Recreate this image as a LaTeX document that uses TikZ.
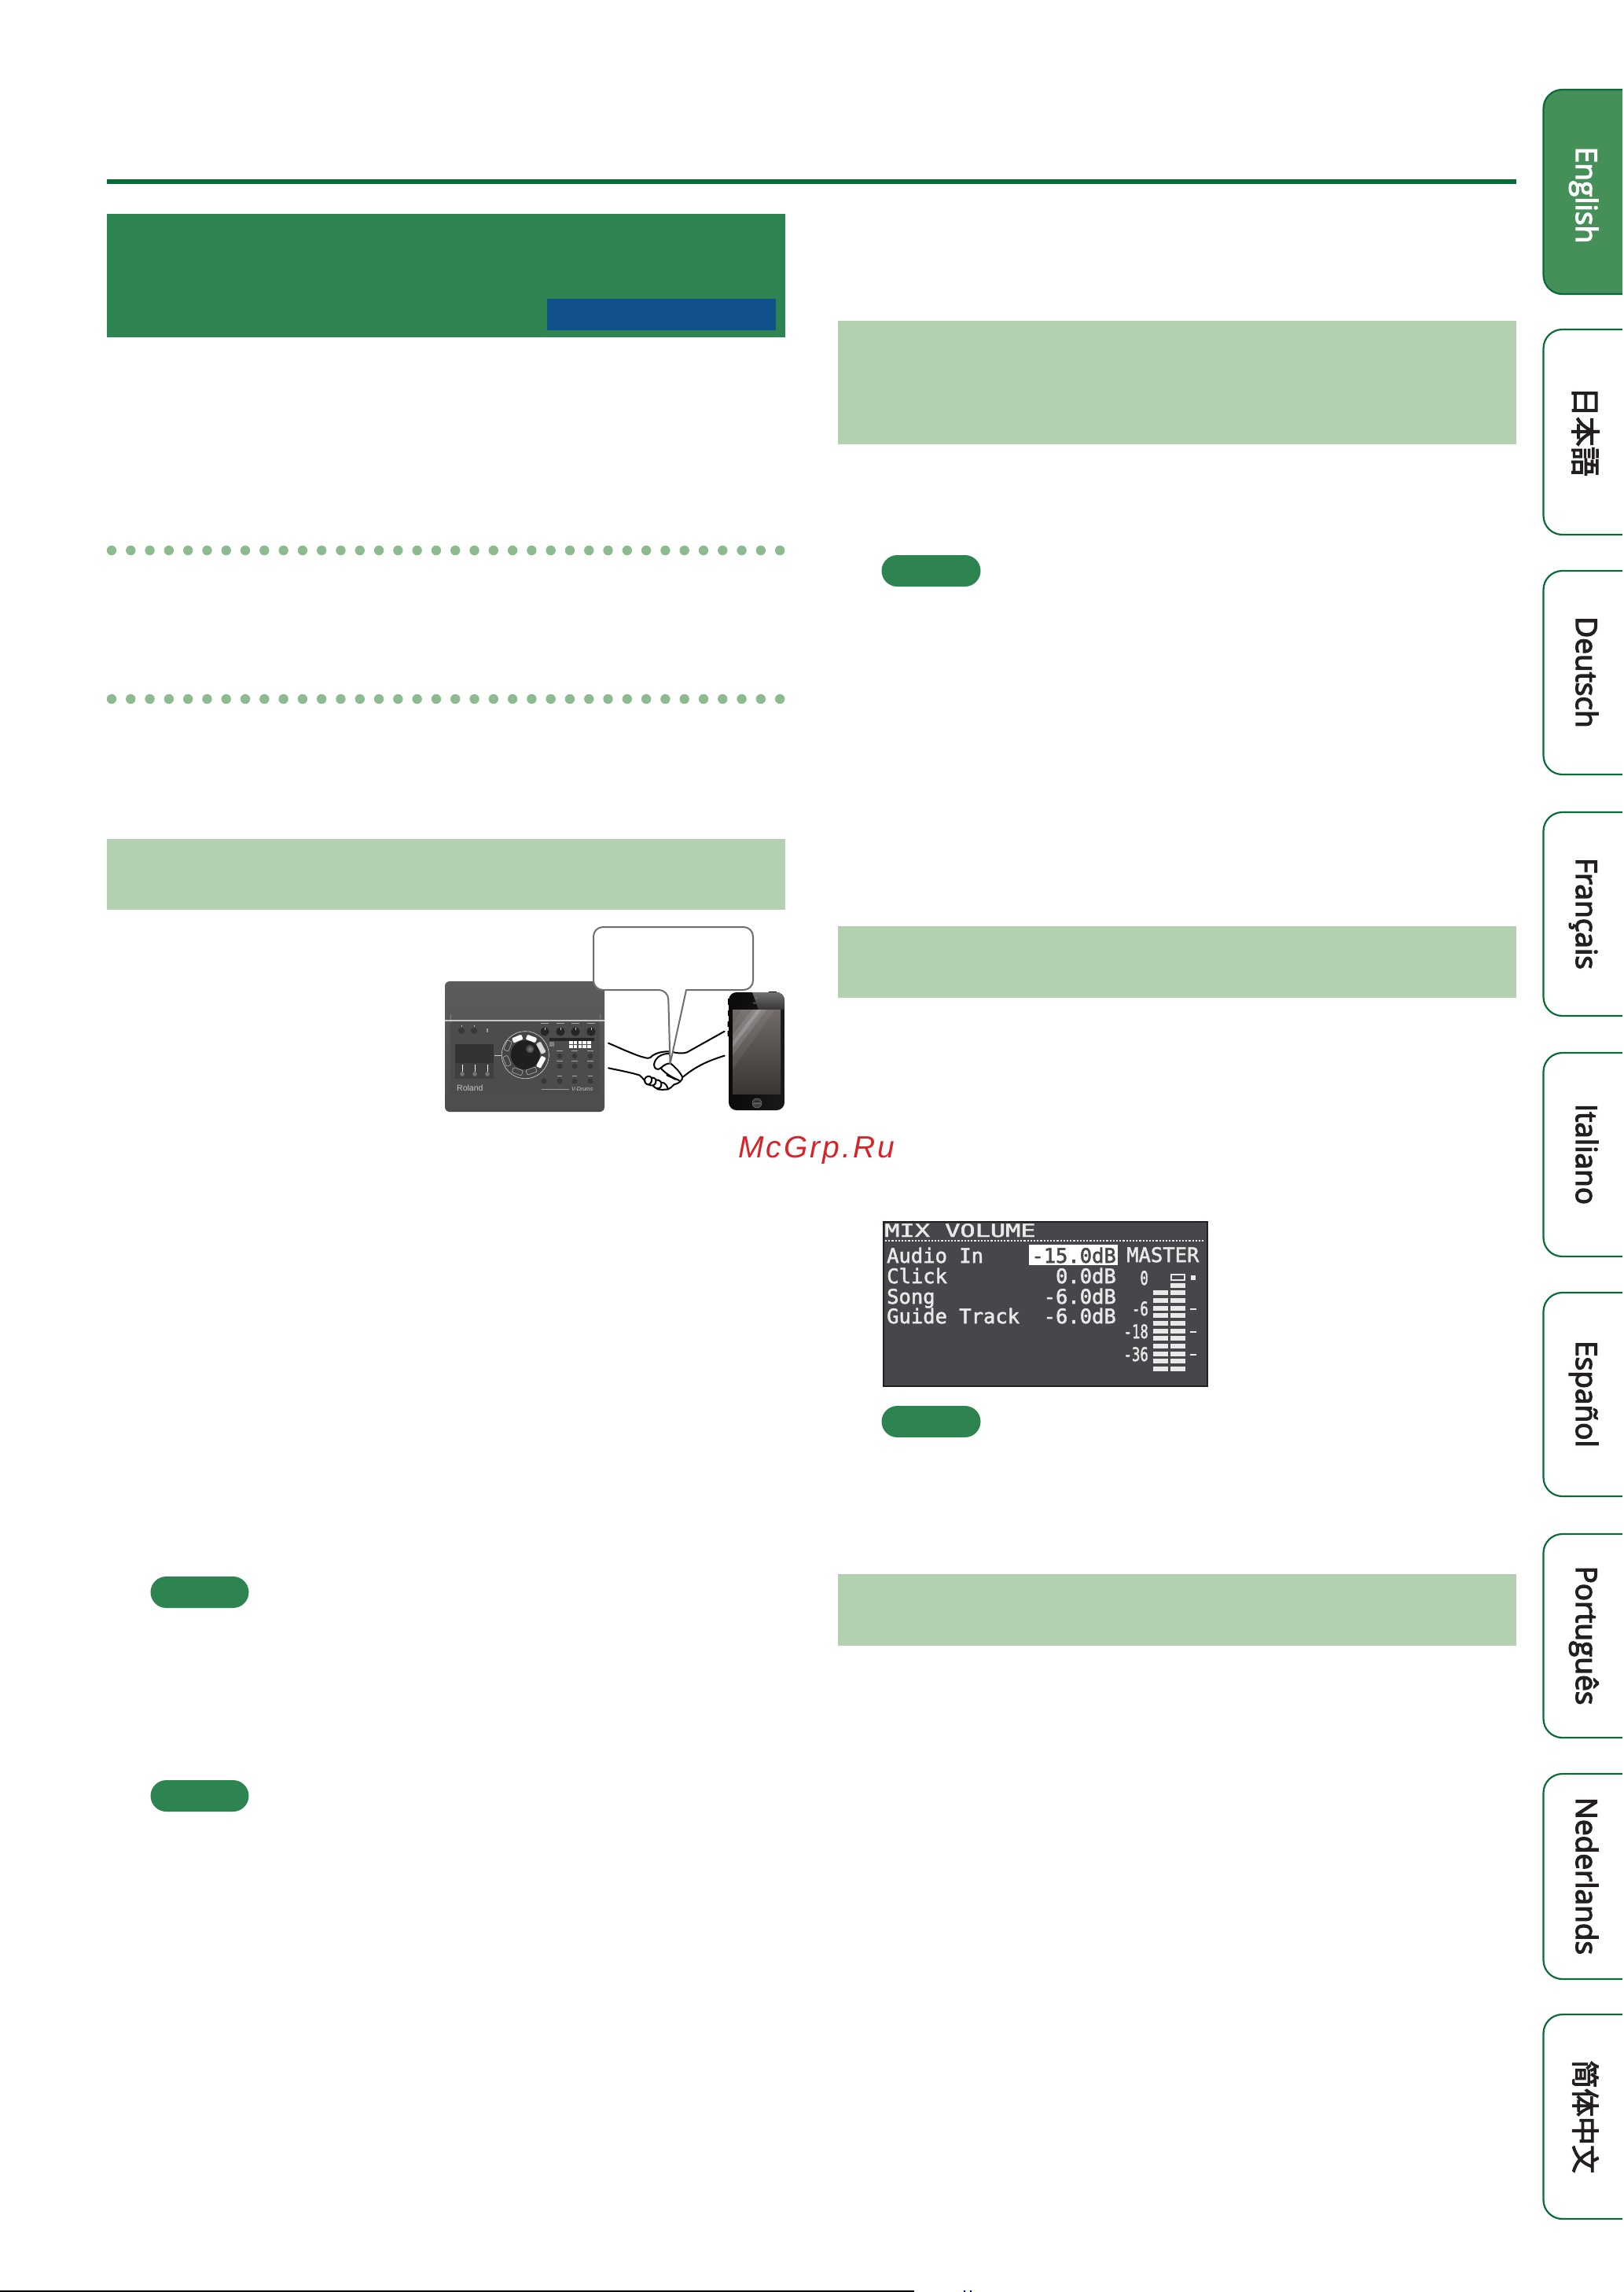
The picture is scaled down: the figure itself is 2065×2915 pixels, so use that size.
\documentclass[tikz,border=0pt]{standalone}
\usepackage{fontspec}
\setmainfont{Liberation Sans}
\newfontfamily\tabfont[FakeBold=3.5]{Open Sans}
\newfontfamily\jpfont[FakeBold=3]{Noto Sans CJK JP}
\newfontfamily\scfont[FakeBold=3]{Noto Sans CJK SC}
\newfontfamily\lcdfont[FakeBold=2]{DejaVu Sans Mono}
\definecolor{hd}{HTML}{2D8450}
\definecolor{rule}{HTML}{0A6B39}
\definecolor{blu}{HTML}{10508C}
\definecolor{bar}{HTML}{B3D0B1}
\definecolor{dotc}{HTML}{8DBB8F}
\definecolor{tabfill}{HTML}{459059}
\definecolor{ink}{HTML}{231F20}
\definecolor{lcd}{HTML}{45474B}
\definecolor{lcdtxt}{HTML}{E9E9E9}
\definecolor{mark}{HTML}{D9232A}
\definecolor{bub}{HTML}{6E6E6E}
\definecolor{scrA}{HTML}{706A68}
\definecolor{scrB}{HTML}{3A3533}
\tikzset{
  tabbox/.style={draw=rule,line width=2.2pt,rounded corners=24pt},
  tabtxt/.style={anchor=base,rotate=-90,text=ink,inner sep=0pt,font=\tabfont\fontsize{37}{37}\selectfont},
  cjktxt/.style={anchor=center,rotate=-90,text=ink,inner sep=0pt},
  pill/.style={fill=hd,rounded corners=20pt},
  lcdl/.style={anchor=base west,inner sep=0pt,text=lcdtxt,font=\lcdfont\fontsize{25.5}{25.5}\selectfont},
  lcdr/.style={anchor=base east,inner sep=0pt,text=lcdtxt,font=\lcdfont\fontsize{25.5}{25.5}\selectfont},
  lcdn/.style={anchor=base east,inner sep=0pt,text=lcdtxt,transform shape,xscale=.72,font=\lcdfont\fontsize{24}{24}\selectfont},
  knob/.style={fill=black!78},
  whitekey/.style={fill=white,rounded corners=1.2pt,minimum height=6.5pt,inner sep=0pt},
  outkey/.style={draw=white,line width=.6pt,rounded corners=1.2pt,minimum height=6.5pt,inner sep=0pt},
  handline/.style={line width=2pt,draw=black,line cap=round,line join=round},
}
\begin{document}
\begin{tikzpicture}[x=1pt,y=-1pt]
\useasboundingbox (0,0) rectangle (2065,2915);
\fill[white] (0,0) rectangle (2065,2915);

% top rule, title band
\fill[rule] (136,228) rectangle (1929,234);
\fill[hd] (136,272) rectangle (998.5,429);
\fill[blu] (696,380) rectangle (986.5,420);

% dotted rows
\foreach \yy in {700,889}{
  \foreach \i in {0,...,35}{
    \fill[dotc] ({142+24.29*\i},\yy) circle (6.2);
  }
}

% section bars
\fill[bar] (136,1067) rectangle (998.5,1156.5);
\fill[bar] (1066,407.5) rectangle (1928.5,565);
\fill[bar] (1066,1177.5) rectangle (1928.5,1268.5);
\fill[bar] (1066,2002) rectangle (1928.5,2093);

% pills
\fill[pill] (191.5,2005) rectangle (316.5,2045);
\fill[pill] (191.5,2264) rectangle (316.5,2304);
\fill[pill] (1121.5,706) rectangle (1247.5,746);
\fill[pill] (1121.5,1788) rectangle (1247.5,1828);

% drum module
\shade[top color=black!64,bottom color=black!70,rounded corners=6pt] (566,1248) rectangle (769,1414);
\fill[black!70,rounded corners=6pt] (573,1298) rectangle (763,1392);
\draw[black!50,line width=.6pt] (573,1290) -- (573,1298) (763,1290) -- (763,1298);
\draw[black!22,line width=1.2pt] (566,1298) -- (769,1298);
% left controls
\foreach \xx in {587,603}{\fill[knob] (\xx,1311) circle (4);\draw[black!25,line width=.7pt] (\xx,1304) -- (\xx,1305.5);}
\fill[black!40] (619,1308) rectangle (621,1313);
\fill[black!80] (579,1328) rectangle (628,1372);
\fill[black!75] (579,1352) rectangle (628,1372);
\foreach \xx in {588,604,620}{
  \draw[white,line width=.9pt] (\xx,1354) -- (\xx,1363);
  \fill[black!55] (\xx,1366) circle (2.8);
}
\draw[black!20,line width=.7pt] (629,1342) -- (638,1342);
% wheel
\fill[black!73] (668.3,1341.7) circle (30);
\draw[black!15,line width=.6pt] (668.3,1341.7) circle (30);
\fill[black!88] (668.3,1341.7) circle (18.5);
\shade[inner color=black!50,outer color=black!78] (674,1334) circle (5.5);
\node[whitekey,minimum width=13pt,rotate=22] (wa) at (658.3,1321) {};
\node[whitekey,minimum width=13pt,rotate=-20] (wb) at (676,1321) {};
\node[whitekey,minimum width=15pt,rotate=-62,fill=white!85!black] (wc) at (688.3,1332.7) {};
\node[whitekey,minimum width=15pt,rotate=62] (wd) at (688.3,1350.7) {};
\node[outkey,draw=white!70!black,minimum width=13pt,rotate=68] (we) at (646,1330) {};
\node[outkey,draw=white!70!black,minimum width=13pt,rotate=-68] (wf) at (645,1349.3) {};
\node[outkey,draw=white!70!black,minimum width=13pt,rotate=-20] (wg) at (658.3,1362.7) {};
\node[outkey,draw=white!70!black,minimum width=13pt,rotate=20] (wh) at (676,1362) {};
% big knobs
\foreach \xx in {693,713,732,752}{
  \fill[black!85] (\xx,1312) circle (5.6);
  \draw[white!80!black,line width=.7pt] (\xx,1306.5) -- (\xx,1309.5);
}
\fill[black!85] (699,1320) rectangle (756,1324);
\fill[black!50] (699,1325) rectangle (705,1331);
\foreach \cc in {0,...,4}{
  \fill[white] ({724+5.8*\cc},1324) rectangle ({728.5+5.8*\cc},1328);
  \fill[white] ({724+5.8*\cc},1329) rectangle ({728.5+5.8*\cc},1333);
}
\foreach \xx in {712,731,751}{
  \fill[knob] (\xx,1343) circle (3.4);
  \fill[knob] (\xx,1356) circle (3.4);
  \fill[knob] (\xx,1375) circle (3.4);
  \fill[black!35] ({\xx-4},1336) rectangle ({\xx+4},1337);
  \fill[black!35] ({\xx-4},1349) rectangle ({\xx+4},1350);
  \fill[black!35] ({\xx-3},1368) rectangle ({\xx+3},1369);
}
\fill[knob] (692,1375) circle (3.4);
\foreach \xx in {693,713,732,752}{\fill[black!35] ({\xx-5},1301) rectangle ({\xx+5},1302);}
\node[anchor=west,inner sep=0pt,text=black!22,font=\fontsize{10.5}{10.5}\selectfont] (roland) at (581,1384) {Roland};
\fill[black!40] (689,1385) rectangle (724,1386.3);
\node[anchor=west,inner sep=0pt,text=black!22,font=\itshape\fontsize{7}{7}\selectfont] (vdrums) at (727,1385) {V-Drums};

% handshake
\begin{scope}[shift={(770,1280)},scale=0.33333]
\draw[handline] (12,140) .. controls (70,165) and (120,188) .. (150,195) .. controls (160,198) and (168,198) .. (172,195) .. controls (185,180) and (215,170) .. (250,172) .. controls (270,178) and (295,182) .. (312,175) -- (455,95);
\draw[handline] (12,235) .. controls (60,245) and (110,255) .. (132,263) .. controls (140,270) and (146,278) .. (152,285);
\draw[handline] (455,188) .. controls (400,205) and (350,225) .. (298,268);
\draw[handline] (248,180) .. controls (215,178) and (190,195) .. (186,222) .. controls (186,238) and (200,245) .. (212,235) .. controls (225,222) and (238,216) .. (250,218) .. controls (268,232) and (285,250) .. (295,270) .. controls (295,282) and (280,295) .. (262,298) .. controls (255,305) and (250,312) .. (240,316) .. controls (225,318) and (205,318) .. (198,315);
\draw[handline] (212,235) .. controls (225,252) and (255,272) .. (282,282);
\draw[handline] (235,262) -- (268,278);
\draw[handline] (150,278) .. controls (155,265) and (170,262) .. (176,272) .. controls (182,282) and (172,298) .. (165,298) .. controls (155,298) and (148,288) .. (150,278);
\draw[handline] (176,272) .. controls (188,270) and (198,278) .. (192,292) .. controls (188,302) and (178,305) .. (165,298);
\draw[handline] (196,280) .. controls (208,280) and (220,290) .. (212,306) .. controls (206,316) and (195,316) .. (182,303);
\draw[handline] (218,290) .. controls (228,292) and (236,302) .. (240,316);
\end{scope}

% phone
\fill[black] (926,1270) rectangle (929,1278) (926,1285) rectangle (929,1292) (925.5,1299) rectangle (928,1306) (925.5,1311) rectangle (928,1318);
\fill[black] (978,1261) rectangle (988,1264);
\begin{scope}
\clip[rounded corners=10pt] (927,1262) rectangle (998,1412);
\shade[left color=black!96,right color=black!90] (927,1262) rectangle (998,1412);
\shade[top color=black!55,bottom color=black!80] (957,1262) -- (965,1284) -- (998,1284) -- (998,1262) -- cycle;
\end{scope}
\begin{scope}
\clip (932,1284) rectangle (993,1391);
\shade[top color=scrA,bottom color=scrB] (932,1284) rectangle (993,1391);
\fill[white,opacity=.07] (944,1284) -- (986,1284) -- (932,1360) -- (932,1302) -- cycle;
\fill[white,opacity=.12] (957,1284) -- (975,1284) -- (932,1342) -- (932,1316) -- cycle;
\fill[white,opacity=.18] (963,1284) -- (969,1284) -- (932,1332) -- (932,1325) -- cycle;
\end{scope}
\fill[black!75] (963,1403) circle (6);
\draw[black!55,line width=.6pt] (963,1403) circle (6);
\shade[top color=black!90,bottom color=black!50] (957.5,1404) arc[start angle=180,end angle=360,x radius=5.5,y radius=4] -- cycle;
\fill[black!70,rounded corners=1pt] (957.5,1274.5) rectangle (969,1276.5);
\fill[black!50] (962.5,1269) circle (1.4);

% speech bubble
\draw[fill=white,draw=bub,line width=2pt,line join=round] (850,1259) -- (852.5,1353) -- (873,1259) [rounded corners=12pt] -- (958,1259) -- (958,1179) -- (755,1179) -- (755,1259) -- cycle;

% LCD
\fill[lcd,draw=ink,line width=2pt] (1123.5,1554) rectangle (1536,1763);
\node[lcdl,transform shape,xscale=1.42,font=\lcdfont\fontsize{22.5}{22.5}\selectfont] (lcdtitle) at (1125,1573) {MIX VOLUME};
\draw[lcdtxt,line width=2.2pt,dash pattern=on 2.2pt off 2pt] (1126,1578) -- (1532,1578);
\fill[white] (1309,1583) rectangle (1422,1609);
\node[lcdl] (a1) at (1128,1606) {Audio In};
\node[lcdl] (a2) at (1128,1632) {Click};
\node[lcdl] (a3) at (1128,1658) {Song};
\node[lcdl] (a4) at (1128,1683) {Guide Track};
\node[lcdr,text=lcd] (v1) at (1420,1606) {-15.0dB};
\node[lcdr] (v2) at (1420,1632) {0.0dB};
\node[lcdr] (v3) at (1420,1658) {-6.0dB};
\node[lcdr] (v4) at (1420,1683) {-6.0dB};
\node[lcdl] (master) at (1433,1605) {MASTER};
\node[lcdn] (m0) at (1461,1634) {0};
\node[lcdn] (m6) at (1461,1673) {-6};
\node[lcdn] (m18) at (1461,1702) {-18};
\node[lcdn] (m36) at (1461,1731) {-36};
\foreach \i in {0,...,11}{
  \fill[lcdtxt] (1489,{1631.5+9.67*\i}) rectangle (1508,{1637.5+9.67*\i});
}
\foreach \i in {1,...,11}{
  \fill[lcdtxt] (1467,{1631.5+9.67*\i}) rectangle (1486,{1637.5+9.67*\i});
}
\draw[lcdtxt,line width=2pt] (1490,1620.5) rectangle (1507,1627.5);
\fill[lcdtxt] (1515,1622) rectangle (1521,1628);
\foreach \yy in {1665,1694,1723}{\fill[lcdtxt] (1514,{\yy-1.2}) rectangle (1522,{\yy+1.2});}

% language tabs
\draw[tabbox,fill=tabfill] (2064,114) -- (1963.5,114) -- (1963.5,374) -- (2064,374);
\draw[tabbox] (2064,419) -- (1963.5,419) -- (1963.5,680) -- (2064,680);
\draw[tabbox] (2064,726) -- (1963.5,726) -- (1963.5,985) -- (2064,985);
\draw[tabbox] (2064,1033) -- (1963.5,1033) -- (1963.5,1292) -- (2064,1292);
\draw[tabbox] (2064,1339) -- (1963.5,1339) -- (1963.5,1598) -- (2064,1598);
\draw[tabbox] (2064,1644) -- (1963.5,1644) -- (1963.5,1903) -- (2064,1903);
\draw[tabbox] (2064,1951) -- (1963.5,1951) -- (1963.5,2210) -- (2064,2210);
\draw[tabbox] (2064,2256) -- (1963.5,2256) -- (1963.5,2517) -- (2064,2517);
\draw[tabbox] (2064,2562) -- (1963.5,2562) -- (1963.5,2822) -- (2064,2822);
\node[tabtxt,text=white] (t1) at (2005,248) {English};
\node[cjktxt,font=\jpfont\fontsize{38}{38}\selectfont] (t2) at (2017,549) {日本語};
\node[tabtxt] (t3) at (2005,855) {Deutsch};
\node[tabtxt] (t4) at (2005,1162) {Français};
\node[tabtxt] (t5) at (2005,1468) {Italiano};
\node[tabtxt] (t6) at (2005,1773) {Español};
\node[tabtxt] (t7) at (2005,2080) {Português};
\node[tabtxt] (t8) at (2005,2386) {Nederlands};
\node[cjktxt,font=\scfont\fontsize{36}{36}\selectfont] (t9) at (2017,2692) {简体中文};

% watermark
\node[anchor=base west,inner sep=0pt,text=mark,font={\itshape\addfontfeature{LetterSpace=7.7}\fontsize{39}{39}\selectfont}] (mcgrp) at (939,1472) {McGrp.Ru};

% bottom edge
\fill[black] (0,2912.5) rectangle (1163,2915);
\fill[blue!70!black] (1226,2913) rectangle (1228,2915) (1234,2913) rectangle (1236,2915);
\end{tikzpicture}
\end{document}
